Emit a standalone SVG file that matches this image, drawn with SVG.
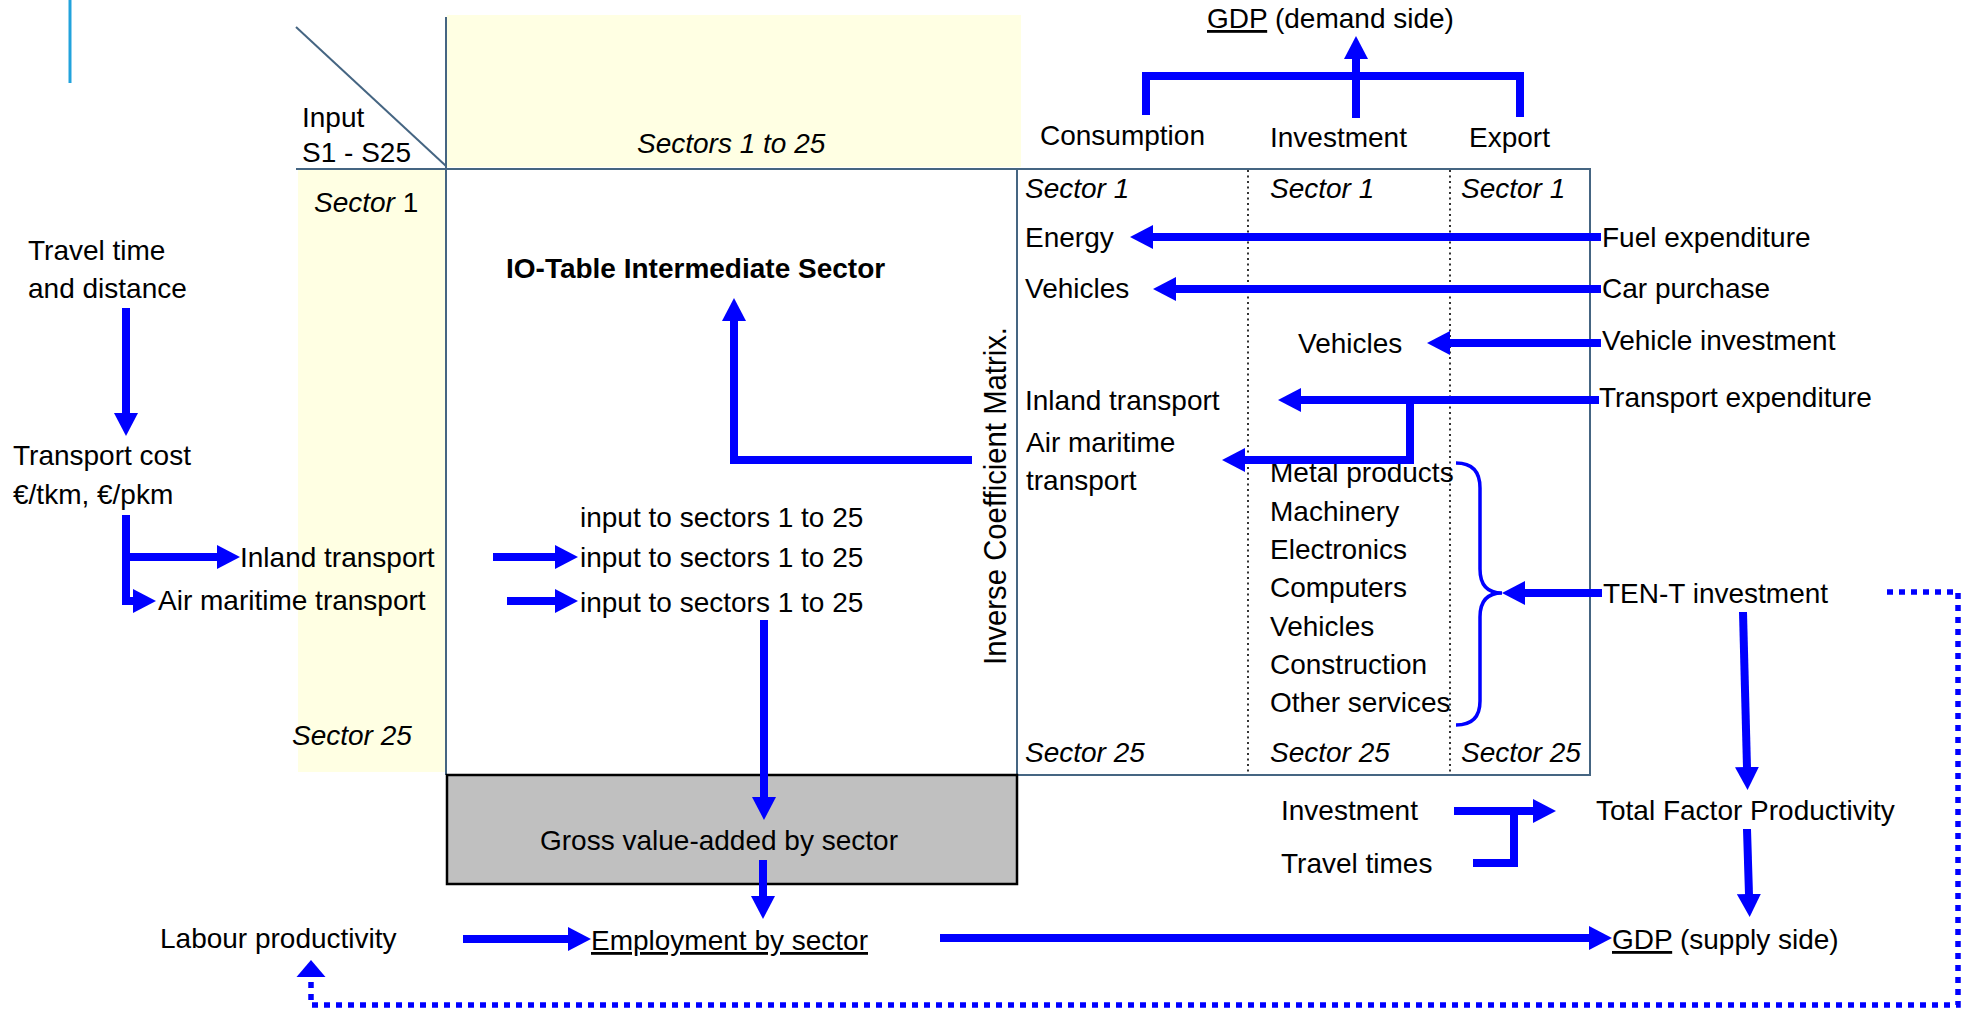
<svg xmlns="http://www.w3.org/2000/svg" width="1974" height="1011" viewBox="0 0 1974 1011">
<style>
  .t { font-family: "Liberation Sans", Arial, sans-serif; font-size: 28px; fill: #000; }
  .it { font-style: italic; }
  .b { font-weight: bold; }
  .u { text-decoration: underline; }
  .grid { fill: none; stroke: #456582; stroke-width: 2; }
  .div { fill: none; stroke: #000; stroke-width: 1.6; stroke-dasharray: 2 3.5; }
  .arr { fill: none; stroke: #0000FF; stroke-width: 8; stroke-linejoin: miter; marker-end: url(#ah); }
  .ln { fill: none; stroke: #0000FF; stroke-width: 8; stroke-linejoin: miter; }
  .brace { fill: none; stroke: #0000FF; stroke-width: 3.5; }
  .dash { fill: none; stroke: #0000FF; stroke-width: 5.5; stroke-dasharray: 6 6; marker-end: url(#ahd); }
</style>
<defs>
  <marker id="ah" markerUnits="userSpaceOnUse" markerWidth="24" markerHeight="24" refX="1" refY="12" orient="auto" viewBox="0 0 24 24">
    <path d="M0,0 L23,12 L0,24 Z" fill="#0000FF"/>
  </marker>
  <marker id="ahd" markerUnits="userSpaceOnUse" markerWidth="18" markerHeight="30" refX="0" refY="15" orient="auto" viewBox="0 0 18 30">
    <path d="M0,0.5 L17,15 L0,29.5 Z" fill="#0000FF"/>
  </marker>
</defs>

<rect width="1974" height="1011" fill="#FFFFFF"/>
<line x1="70" y1="0" x2="70" y2="83" stroke="#22A3DC" stroke-width="3"/>

<g id="table">
  <rect x="447" y="15" width="574" height="152" fill="#FFFFE3"/>
  <rect x="298" y="170" width="148" height="602" fill="#FFFFE3"/>
  <line class="grid" x1="296" y1="27" x2="446" y2="166"/>
  <line class="grid" x1="296" y1="169" x2="1591" y2="169" stroke-width="3"/>
  <line class="grid" x1="446" y1="17" x2="446" y2="775"/>
  <line class="grid" x1="1017" y1="168" x2="1017" y2="775"/>
  <line class="grid" x1="1590" y1="168" x2="1590" y2="776"/>
  <line class="grid" x1="1017" y1="775" x2="1591" y2="775"/>
  <line class="div" x1="1248" y1="170" x2="1248" y2="774"/>
  <line class="div" x1="1450" y1="170" x2="1450" y2="774"/>
</g>

<g id="node-input"><text class="t" x="302" y="127">Input</text><text class="t" x="302" y="162">S1 - S25</text></g>
<g id="node-sectors-header"><text class="t it" x="637" y="153">Sectors 1 to 25</text></g>
<g id="node-sector1-left"><text class="t" x="314" y="212"><tspan class="it">Sector</tspan> 1</text></g>
<g id="node-sector25-left"><text class="t it" x="292" y="745">Sector 25</text></g>
<g id="node-io-table"><text class="t b" x="506" y="278">IO-Table Intermediate Sector</text></g>
<g id="node-inverse"><text class="t" style="font-size:31px" transform="translate(1006,665) rotate(-90)" x="0" y="0" textLength="338" lengthAdjust="spacingAndGlyphs">Inverse Coefficient Matrix.</text></g>

<g id="node-gva">
  <rect x="447" y="775" width="570" height="109" fill="#C0C0C0" stroke="#000" stroke-width="2.5"/>
  <text class="t" x="540" y="850">Gross value-added by sector</text>
</g>

<g id="node-travel-time"><text class="t" x="28" y="260">Travel time</text><text class="t" x="28" y="298">and distance</text></g>
<g id="node-transport-cost"><text class="t" x="13" y="465">Transport cost</text><text class="t" x="13" y="504">€/tkm, €/pkm</text></g>
<g id="node-inland-left"><text class="t" x="240" y="567">Inland transport</text></g>
<g id="node-air-left"><text class="t" x="158" y="610">Air maritime transport</text></g>
<g id="node-input-rows">
  <text class="t" x="580" y="527">input to sectors 1 to 25</text>
  <text class="t" x="580" y="567">input to sectors 1 to 25</text>
  <text class="t" x="580" y="612">input to sectors 1 to 25</text>
</g>
<g id="node-labour"><text class="t" x="160" y="948">Labour productivity</text></g>
<g id="node-employment"><text class="t u" x="591" y="950">Employment by sector</text></g>

<g id="node-gdp-demand"><text class="t" x="1207" y="28"><tspan class="u">GDP</tspan> (demand side)</text></g>
<g id="node-consumption"><text class="t" x="1040" y="145">Consumption</text></g>
<g id="node-investment-col"><text class="t" x="1270" y="147">Investment</text></g>
<g id="node-export"><text class="t" x="1469" y="147">Export</text></g>

<g id="node-final-demand">
  <text class="t it" x="1025" y="198">Sector 1</text>
  <text class="t it" x="1270" y="198">Sector 1</text>
  <text class="t it" x="1461" y="198">Sector 1</text>
  <text class="t" x="1025" y="247">Energy</text>
  <text class="t" x="1025" y="298">Vehicles</text>
  <text class="t" x="1298" y="353">Vehicles</text>
  <text class="t" x="1025" y="410">Inland transport</text>
  <text class="t" x="1026" y="452">Air maritime</text>
  <text class="t" x="1026" y="490">transport</text>
  <text class="t" x="1270" y="482">Metal products</text>
  <text class="t" x="1270" y="521">Machinery</text>
  <text class="t" x="1270" y="559">Electronics</text>
  <text class="t" x="1270" y="597">Computers</text>
  <text class="t" x="1270" y="636">Vehicles</text>
  <text class="t" x="1270" y="674">Construction</text>
  <text class="t" x="1270" y="712">Other services</text>
  <text class="t it" x="1025" y="762">Sector 25</text>
  <text class="t it" x="1270" y="762">Sector 25</text>
  <text class="t it" x="1461" y="762">Sector 25</text>
</g>

<g id="node-fuel"><text class="t" x="1602" y="247">Fuel expenditure</text></g>
<g id="node-car"><text class="t" x="1602" y="298">Car purchase</text></g>
<g id="node-vehicle-inv"><text class="t" x="1602" y="350">Vehicle investment</text></g>
<g id="node-transport-exp"><text class="t" x="1599" y="407">Transport expenditure</text></g>
<g id="node-tent"><text class="t" x="1603" y="603">TEN-T investment</text></g>
<g id="node-investment-low"><text class="t" x="1281" y="820">Investment</text></g>
<g id="node-travel-times"><text class="t" x="1281" y="873">Travel times</text></g>
<g id="node-tfp"><text class="t" x="1596" y="820">Total Factor Productivity</text></g>
<g id="node-gdp-supply"><text class="t" x="1612" y="949"><tspan class="u">GDP</tspan> (supply side)</text></g>

<g id="connectors">
  <path class="arr" d="M126,308 L126,414"/>
  <path class="arr" d="M126,515 L126,601 L134,601"/>
  <path class="arr" d="M126,557 L218,557"/>
  <path class="arr" d="M493,557 L556,557"/>
  <path class="arr" d="M507,601 L556,601"/>
  <path class="arr" d="M972,460 L734,460 L734,320"/>
  <path class="arr" d="M764,620 L764,798"/>
  <path class="arr" d="M763,860 L763,897"/>
  <path class="arr" d="M463,939 L569,939"/>
  <path class="arr" d="M940,938 L1590,938"/>
  <path class="ln" d="M1146,115 L1146,76 L1520,76 L1520,117"/>
  <path class="arr" d="M1356,118 L1356,58"/>
  <path class="arr" d="M1601,237 L1152,237"/>
  <path class="arr" d="M1601,289 L1175,289"/>
  <path class="arr" d="M1601,343 L1449,343"/>
  <path class="arr" d="M1599,400 L1300,400"/>
  <path class="arr" d="M1410,400 L1410,460 L1244,460"/>
  <path class="arr" d="M1602,593 L1524,593"/>
  <path class="brace" d="M1456,463 Q1480,463 1480,488 L1480,569 Q1480,593 1502,593 Q1480,593 1480,617 L1480,701 Q1480,725 1456,725"/>
  <path class="arr" d="M1743,612 L1747,768"/>
  <path class="arr" d="M1747,829 L1749,895"/>
  <path class="arr" d="M1454,811 L1534,811"/>
  <path class="ln" d="M1473,863 L1514,863 L1514,811"/>
  <path class="dash" d="M1887,592 L1958,592 L1958,1005 L311,1005 L311,977"/>
</g>
</svg>
